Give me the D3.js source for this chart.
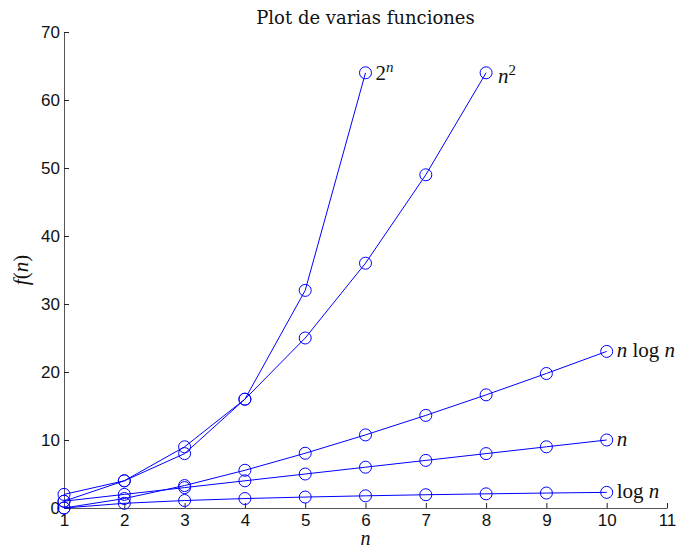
<!DOCTYPE html>
<html>
<head>
<meta charset="utf-8">
<script src="https://cdn.jsdelivr.net/npm/d3@7"></script>
<style>
  body { margin: 0; background: #fff; }
  .tick text { font-family: "Liberation Sans", Arial, sans-serif; }
  .math { font-family: "Liberation Serif", "DejaVu Serif", serif; }
</style>
</head>
<body>
<div id="wrapper"></div>
<script>
// values
const nValues = [1, 2, 3, 4, 5, 6, 7, 8, 9, 10]
const pow2 = [2, 4, 8, 16, 32, 64]
const square = [1, 4, 9, 16, 25, 36, 49, 64]
const nLogN = [0, 1.39, 3.3, 5.55, 8.05, 10.75, 13.62, 16.64, 19.78, 23.03]
const linear = [1, 2, 3, 4, 5, 6, 7, 8, 9, 10]
const logN = [0, 0.69, 1.1, 1.39, 1.61, 1.79, 1.95, 2.08, 2.2, 2.3]
const xTicks = [1, 2, 3, 4, 5, 6, 7, 8, 9, 10, 11]
const yTicks = [0, 10, 20, 30, 40, 50, 60, 70]

function drawChart(){
    const dimensions = {
        width: 683,
        height: 550,
        margin: { top: 32, right: 16, bottom: 42, left: 64 },
    }
    dimensions.boundedWidth = dimensions.width - dimensions.margin.left - dimensions.margin.right
    dimensions.boundedHeight = dimensions.height - dimensions.margin.top - dimensions.margin.bottom

    const wrapper = d3.select("#wrapper")
        .append("svg")
        .attr("width", dimensions.width)
        .attr("height", dimensions.height)

    const bounds = wrapper.append("g")
        .attr("transform", `translate(${dimensions.margin.left},${dimensions.margin.top})`)

    const xScale = d3.scaleLinear()
        .domain([1, 11])
        .range([0, dimensions.boundedWidth])

    const yScale = d3.scaleLinear()
        .domain([0, 70])
        .range([dimensions.boundedHeight, 0])

    // axes, ticks pointing inward
    const xAxis = bounds.append("g")
        .attr("transform", `translate(0,${dimensions.boundedHeight})`)
        .call(d3.axisBottom(xScale).tickValues(xTicks).tickSizeInner(-5).tickSizeOuter(0).tickPadding(6))
    const yAxis = bounds.append("g")
        .call(d3.axisLeft(yScale).tickValues(yTicks).tickSizeInner(-5).tickSizeOuter(0).tickPadding(4))

    for (const ax of [xAxis, yAxis]) {
        ax.select(".domain").attr("stroke", "#555")
        ax.selectAll(".tick line").attr("stroke", "#222")
        ax.selectAll(".tick text").attr("font-size", 17).attr("fill", "#111")
    }

    const series = [
        { values: pow2, label: "2", sup: "n", dx: 10, dy: 7 },
        { values: square, label: "n", sup: "2", dx: 12, dy: 10 },
        { values: nLogN, label: "nlogn", dx: 10, dy: 6 },
        { values: linear, label: "n", dx: 10, dy: 6 },
        { values: logN, label: "logn", dx: 10, dy: 6 },
    ]

    const lineGen = d3.line()
        .x((d, i) => xScale(nValues[i]))
        .y(d => yScale(d))

    series.forEach(s => {
        const g = bounds.append("g")
        g.append("path")
            .attr("d", lineGen(s.values))
            .attr("fill", "none")
            .attr("stroke", "#0000ff")
            .attr("stroke-width", 1)
        g.selectAll("circle")
            .data(s.values)
            .join("circle")
            .attr("cx", (d, i) => xScale(nValues[i]))
            .attr("cy", d => yScale(d))
            .attr("r", 6)
            .attr("fill", "none")
            .attr("stroke", "#0000ff")
            .attr("stroke-width", 1)

        const last = s.values.length - 1
        const t = g.append("text")
            .attr("class", "math")
            .attr("x", xScale(nValues[last]) + s.dx)
            .attr("y", yScale(s.values[last]) + s.dy)
            .attr("font-size", 21)
            .attr("fill", "#111")
        if (s.label === "2") {
            t.append("tspan").text("2")
            t.append("tspan").attr("font-style", "italic").attr("font-size", 15).attr("dy", -8).text("n")
        } else if (s.sup === "2") {
            t.append("tspan").attr("font-style", "italic").text("n")
            t.append("tspan").attr("font-size", 15).attr("dy", -8).text("2")
        } else if (s.label === "nlogn") {
            t.append("tspan").attr("font-style", "italic").text("n")
            t.append("tspan").text(" log ")
            t.append("tspan").attr("font-style", "italic").text("n")
        } else if (s.label === "logn") {
            t.append("tspan").text("log ")
            t.append("tspan").attr("font-style", "italic").text("n")
        } else {
            t.append("tspan").attr("font-style", "italic").text("n")
        }
    })

    // title and axis labels
    wrapper.append("text")
        .attr("x", dimensions.margin.left + dimensions.boundedWidth / 2)
        .attr("y", 24)
        .attr("text-anchor", "middle")
        .attr("font-family", "'DejaVu Serif', serif")
        .attr("font-size", 18)
        .attr("fill", "#111")
        .text("Plot de varias funciones")

    wrapper.append("text")
        .attr("class", "math")
        .attr("x", dimensions.margin.left + dimensions.boundedWidth / 2)
        .attr("y", 545)
        .attr("text-anchor", "middle")
        .attr("font-size", 20)
        .attr("font-style", "italic")
        .attr("fill", "#111")
        .text("n")

    const yLabel = wrapper.append("text")
        .attr("class", "math")
        .attr("transform", `translate(28,${dimensions.margin.top + dimensions.boundedHeight / 2}) rotate(-90)`)
        .attr("text-anchor", "middle")
        .attr("font-size", 21)
        .attr("fill", "#111")
    yLabel.append("tspan").attr("font-style", "italic").text("f")
    yLabel.append("tspan").text("(")
    yLabel.append("tspan").attr("font-style", "italic").text("n")
    yLabel.append("tspan").text(")")
}

drawChart()
</script>
</body>
</html>
